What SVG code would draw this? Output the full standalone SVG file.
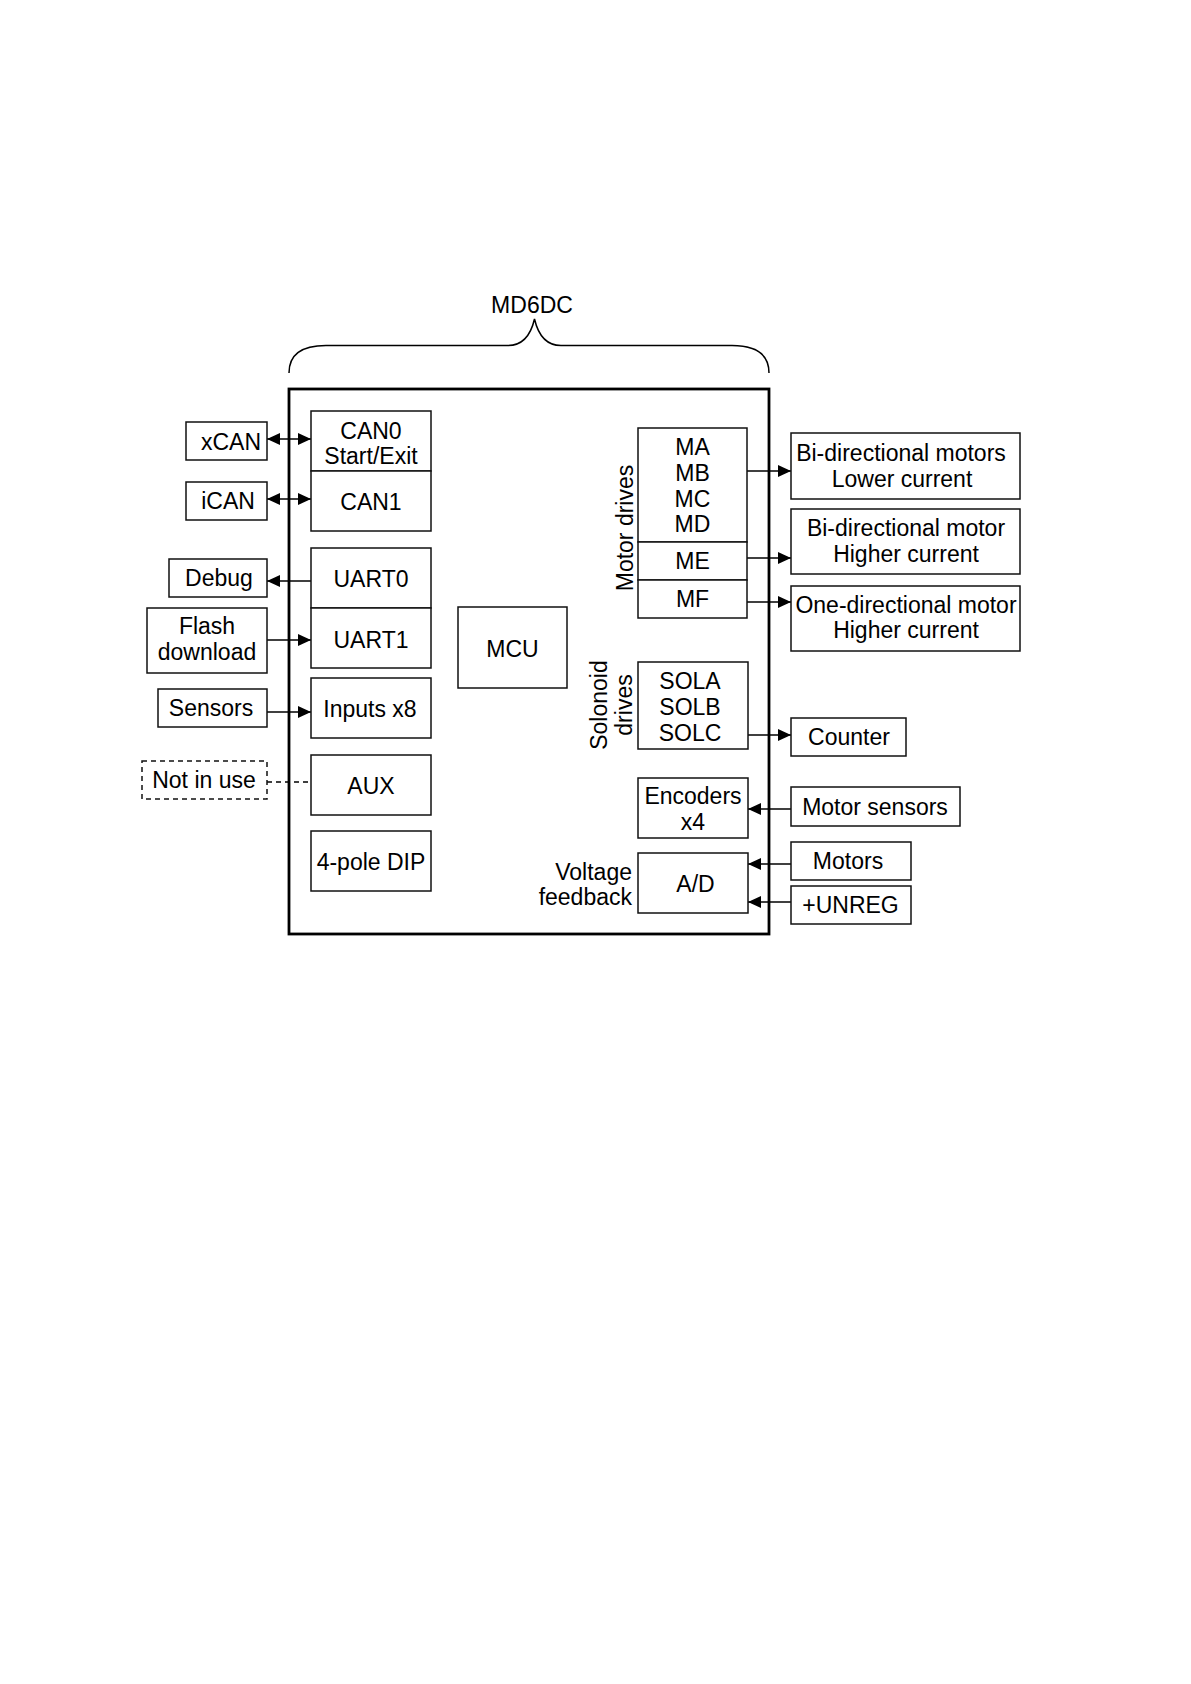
<svg xmlns="http://www.w3.org/2000/svg" width="1191" height="1684" viewBox="0 0 1191 1684">
<style>
  text { font-family: "Liberation Sans", Arial, sans-serif; font-size: 23px; fill: #000; }
  .c { text-anchor: middle; }
  .e { text-anchor: end; }
  .box { fill: #fff; stroke: #111; stroke-width: 1.5; }
  .dbox { fill: #fff; stroke: #111; stroke-width: 1.5; stroke-dasharray: 5 4; }
  .main { fill: none; stroke: #000; stroke-width: 2.8; }
  .ln { fill: none; stroke: #000; stroke-width: 1.5; }
  .dash { fill: none; stroke: #000; stroke-width: 1.5; stroke-dasharray: 5 4; }
</style>
<defs>
  <marker id="ar" markerUnits="userSpaceOnUse" markerWidth="14" markerHeight="13" refX="13" refY="6" orient="auto-start-reverse" viewBox="0 0 14 13">
    <path d="M0,0 L13,6 L0,12 z" fill="#000"/>
  </marker>
</defs>
<rect width="1191" height="1684" fill="#fff"/>

<g id="title">
  <text class="c" x="532" y="313">MD6DC</text>
  <path class="ln" d="M289,373 C289,356 300,345.5 326,345.5 L508,345.5 C523,345.5 531,334 534.5,319 C538,334 546,345.5 561,345.5 L732,345.5 C758,345.5 769,356 769,373"/>
</g>

<g id="md6dc"><rect class="main" x="289" y="389" width="480" height="545"/></g>

<g id="connectors">
  <line class="ln" x1="267" y1="439" x2="311" y2="439" marker-start="url(#ar)" marker-end="url(#ar)"/>
  <line class="ln" x1="267" y1="499" x2="311" y2="499" marker-start="url(#ar)" marker-end="url(#ar)"/>
  <line class="ln" x1="311" y1="581" x2="267" y2="581" marker-end="url(#ar)"/>
  <line class="ln" x1="267" y1="640" x2="311" y2="640" marker-end="url(#ar)"/>
  <line class="ln" x1="267" y1="712" x2="311" y2="712" marker-end="url(#ar)"/>
  <line class="dash" x1="267" y1="782" x2="311" y2="782"/>
  <line class="ln" x1="747" y1="471" x2="791" y2="471" marker-end="url(#ar)"/>
  <line class="ln" x1="747" y1="558" x2="791" y2="558" marker-end="url(#ar)"/>
  <line class="ln" x1="747" y1="602" x2="791" y2="602" marker-end="url(#ar)"/>
  <line class="ln" x1="748" y1="735" x2="791" y2="735" marker-end="url(#ar)"/>
  <line class="ln" x1="791" y1="809" x2="748" y2="809" marker-end="url(#ar)"/>
  <line class="ln" x1="791" y1="864" x2="748" y2="864" marker-end="url(#ar)"/>
  <line class="ln" x1="791" y1="902" x2="748" y2="902" marker-end="url(#ar)"/>
</g>

<g id="xcan"><rect class="box" x="186" y="422" width="81" height="38"/><text class="c" x="231" y="450">xCAN</text></g>
<g id="ican"><rect class="box" x="186" y="482" width="81" height="38"/><text class="c" x="228" y="509">iCAN</text></g>
<g id="debug"><rect class="box" x="169" y="559" width="98" height="38"/><text class="c" x="219" y="586">Debug</text></g>
<g id="flash"><rect class="box" x="147" y="608" width="120" height="65"/><text class="c" x="207" y="634">Flash</text><text class="c" x="207" y="660">download</text></g>
<g id="sensors"><rect class="box" x="158" y="689" width="109" height="38"/><text class="c" x="211" y="716">Sensors</text></g>
<g id="notinuse"><rect class="dbox" x="142" y="761" width="125" height="38"/><text class="c" x="204" y="788">Not in use</text></g>

<g id="can0"><rect class="box" x="311" y="411" width="120" height="60"/><text class="c" x="371" y="439">CAN0</text><text class="c" x="371" y="464">Start/Exit</text></g>
<g id="can1"><rect class="box" x="311" y="471" width="120" height="60"/><text class="c" x="371" y="510">CAN1</text></g>
<g id="uart0"><rect class="box" x="311" y="548" width="120" height="60"/><text class="c" x="371" y="587">UART0</text></g>
<g id="uart1"><rect class="box" x="311" y="608" width="120" height="60"/><text class="c" x="371" y="648">UART1</text></g>
<g id="inputs"><rect class="box" x="311" y="678" width="120" height="60"/><text class="c" x="370" y="717">Inputs x8</text></g>
<g id="aux"><rect class="box" x="311" y="755" width="120" height="60"/><text class="c" x="371" y="794">AUX</text></g>
<g id="dip"><rect class="box" x="311" y="831" width="120" height="60"/><text class="c" x="371" y="870">4-pole DIP</text></g>

<g id="mcu"><rect class="box" x="458" y="607" width="109" height="81"/><text class="c" x="512.5" y="657">MCU</text></g>

<g id="motordrives">
  <rect class="box" x="638" y="428" width="109" height="114"/>
  <rect class="box" x="638" y="542" width="109" height="38"/>
  <rect class="box" x="638" y="580" width="109" height="38"/>
  <text class="c" x="692.5" y="455">MA</text>
  <text class="c" x="692.5" y="481">MB</text>
  <text class="c" x="692.5" y="507">MC</text>
  <text class="c" x="692.5" y="532">MD</text>
  <text class="c" x="692.5" y="569">ME</text>
  <text class="c" x="692.5" y="607">MF</text>
  <text class="c" transform="translate(633,528) rotate(-90)" x="0" y="0">Motor drives</text>
</g>

<g id="bimotors"><rect class="box" x="791" y="433" width="229" height="66"/><text class="c" x="901" y="461">Bi-directional motors</text><text class="c" x="902" y="487">Lower current</text></g>
<g id="bimotor"><rect class="box" x="791" y="509" width="229" height="65"/><text class="c" x="906" y="536">Bi-directional motor</text><text class="c" x="906" y="562">Higher current</text></g>
<g id="onemotor"><rect class="box" x="791" y="586" width="229" height="65"/><text class="c" x="906" y="613">One-directional motor</text><text class="c" x="906" y="638">Higher current</text></g>

<g id="solenoid">
  <rect class="box" x="638" y="662" width="110" height="87"/>
  <text class="c" x="690" y="689">SOLA</text>
  <text class="c" x="690" y="715">SOLB</text>
  <text class="c" x="690" y="741">SOLC</text>
  <text class="c" transform="translate(607,705) rotate(-90)" x="0" y="0">Solonoid</text>
  <text class="c" transform="translate(632,705) rotate(-90)" x="0" y="0">drives</text>
</g>
<g id="counter"><rect class="box" x="791" y="718" width="115" height="38"/><text class="c" x="849" y="745">Counter</text></g>

<g id="encoders"><rect class="box" x="638" y="778" width="110" height="60"/><text class="c" x="693" y="804">Encoders</text><text class="c" x="693" y="830">x4</text></g>
<g id="motorsensors"><rect class="box" x="791" y="787" width="169" height="39"/><text class="c" x="875" y="815">Motor sensors</text></g>

<g id="ad">
  <rect class="box" x="638" y="853" width="110" height="60"/>
  <text class="c" x="695.5" y="892">A/D</text>
  <text class="e" x="632" y="880">Voltage</text>
  <text class="e" x="632" y="905">feedback</text>
</g>
<g id="motors"><rect class="box" x="791" y="842" width="120" height="38"/><text class="c" x="848" y="869">Motors</text></g>
<g id="unreg"><rect class="box" x="791" y="886" width="120" height="38"/><text class="c" x="850.5" y="913">+UNREG</text></g>
</svg>
